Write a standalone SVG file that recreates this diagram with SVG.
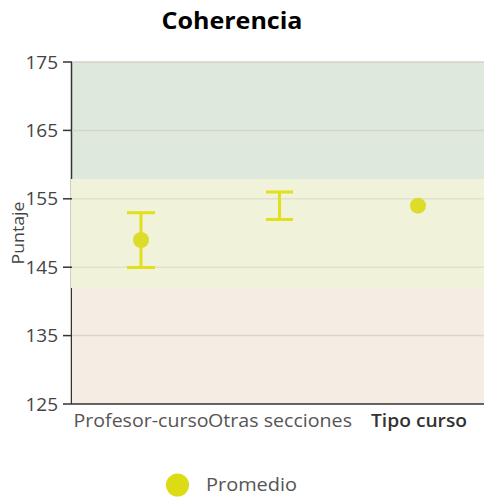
<svg xmlns="http://www.w3.org/2000/svg" width="484" height="501" viewBox="0 0 484 501">
<style>
text{font-family:"Open Sans","Noto Sans","DejaVu Sans",sans-serif;}
.tick{font-size:19px;fill:#444;text-anchor:end;}
.cat{font-size:18.5px;fill:#555;text-anchor:middle;}
.grid{stroke:#d2d4c8;stroke-width:1.5;}
.bar{stroke:#e0e01c;stroke-width:3;fill:none;}
.dot{fill:#dcdc2c;}
.axis{stroke:#333;stroke-width:1.5;}
</style>
<rect width="484" height="501" fill="#fff"/>
<g id="bands">
<rect x="72" y="62" width="412" height="117" fill="#dfe8dd"/>
<line class="axis" x1="71.5" y1="62" x2="71.5" y2="404"/>
<rect x="71" y="179" width="413" height="109" fill="#f1f2da"/>
<rect x="72" y="288" width="412" height="116" fill="#f5ede3"/>
</g>
<g id="grid">
<line class="grid" x1="72" y1="62" x2="484" y2="62"/>
<line class="grid" x1="72" y1="130.4" x2="484" y2="130.4" stroke="#c8cfc6"/>
<line class="grid" x1="72" y1="198.8" x2="484" y2="198.8" style="stroke:#e2e2cc"/>
<line class="grid" x1="72" y1="267.2" x2="484" y2="267.2" style="stroke:#e2e2cc"/>
<line class="grid" x1="72" y1="335.6" x2="484" y2="335.6" style="stroke:#ddd6cc"/>
</g>
<g id="y-axis">
<line class="axis" x1="63" y1="404" x2="484" y2="404"/>
<g stroke="#333" stroke-width="1.5">
<line x1="63" y1="62" x2="72" y2="62"/>
<line x1="63" y1="130.4" x2="72" y2="130.4"/>
<line x1="63" y1="198.8" x2="72" y2="198.8"/>
<line x1="63" y1="267.2" x2="72" y2="267.2"/>
<line x1="63" y1="335.6" x2="72" y2="335.6"/>
</g>
<text class="tick" x="58" y="68.5">175</text>
<text class="tick" x="58" y="136.9">165</text>
<text class="tick" x="58" y="205.3">155</text>
<text class="tick" x="58" y="273.7">145</text>
<text class="tick" x="58" y="342.1">135</text>
<text class="tick" x="58" y="410.5">125</text>
<text x="0" y="0" font-size="17" fill="#444" text-anchor="middle" textLength="63" lengthAdjust="spacingAndGlyphs" transform="translate(24,233) rotate(-90)">Puntaje</text>
</g>
<g id="x-axis">
<text class="cat" x="141" y="427" textLength="135" lengthAdjust="spacingAndGlyphs">Profesor-curso</text>
<text class="cat" x="280" y="427" textLength="144" lengthAdjust="spacingAndGlyphs">Otras secciones</text>
<text class="cat" x="419" y="427" style="fill:#333;font-weight:600" textLength="96" lengthAdjust="spacingAndGlyphs">Tipo curso</text>
</g>
<g id="title">
<text x="232" y="29" font-size="24" font-weight="bold" fill="#000" text-anchor="middle" textLength="141" lengthAdjust="spacingAndGlyphs">Coherencia</text>
</g>
<g id="series">
<g id="profesor-curso">
<line class="bar" x1="141" y1="212.7" x2="141" y2="267.5"/>
<line class="bar" x1="127" y1="212.7" x2="155" y2="212.7"/>
<line class="bar" x1="127" y1="267.5" x2="155" y2="267.5"/>
<circle class="dot" cx="141" cy="240" r="8"/>
</g>
<g id="otras-secciones">
<line class="bar" x1="279.5" y1="192" x2="279.5" y2="219.5"/>
<line class="bar" x1="266" y1="192" x2="293" y2="192"/>
<line class="bar" x1="266" y1="219.5" x2="293" y2="219.5"/>
</g>
<g id="tipo-curso">
<circle class="dot" cx="418" cy="205.7" r="8"/>
</g>
</g>
<g id="legend">
<circle cx="177.5" cy="485" r="11.5" fill="#dcdc14"/>
<text x="206" y="491" font-size="18.5" fill="#555" textLength="91" lengthAdjust="spacingAndGlyphs">Promedio</text>
</g>
</svg>
